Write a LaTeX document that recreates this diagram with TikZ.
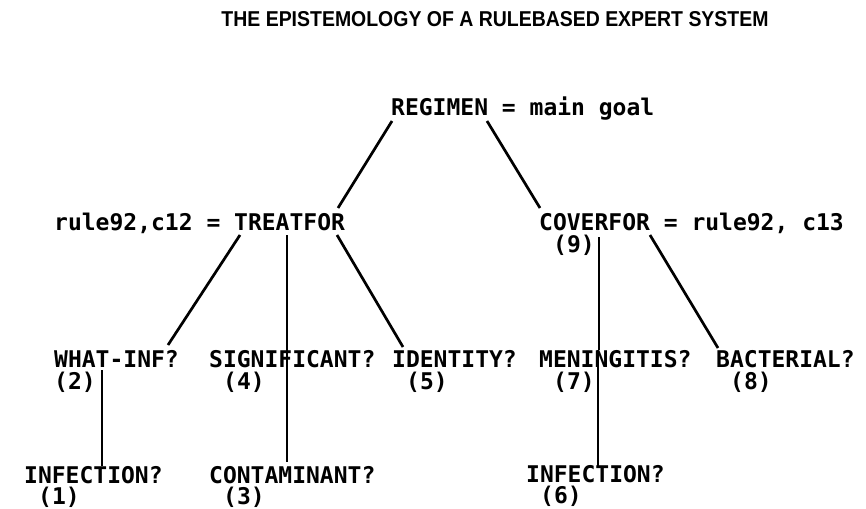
\documentclass[tikz,border=0pt]{standalone}
\usepackage{fontspec}
\usepackage{tikz}
\newfontfamily\printfont{DejaVu Sans Mono}
\newfontfamily\headfont{Liberation Sans}
\tikzstyle{goal} = [inner sep=0pt, anchor=base west, font=\printfont\bfseries\fontsize{23}{22}\selectfont]
\tikzstyle{num} = [goal]
\tikzstyle{branch} = [draw, line width=2.7pt]

\begin{document}
\begin{tikzpicture}[x=1pt, y=-1pt]
    \useasboundingbox (0,0) rectangle (866,508);
    \node [inner sep=0pt, anchor=base, xscale=0.905, font=\headfont\bfseries\fontsize{21.5}{24}\selectfont] (title) at (495,27) {THE EPISTEMOLOGY OF A RULEBASED EXPERT SYSTEM};
    % goals
    \node [goal] (regimen) at (391,115) {REGIMEN = main goal};
    \node [goal] (treat) at (54,230) {rule92,c12 = TREATFOR};
    \node [goal] (cover) at (539,230) {COVERFOR = rule92, c13};
    \node [goal] (whatinf) at (54,367) {WHAT-INF?};
    \node [goal] (signif) at (209,367) {SIGNIFICANT?};
    \node [goal] (ident) at (392,367) {IDENTITY?};
    \node [goal] (menin) at (539,367) {MENINGITIS?};
    \node [goal] (bact) at (716,367) {BACTERIAL?};
    \node [goal] (infa) at (24,483) {INFECTION?};
    \node [goal] (contam) at (209,483) {CONTAMINANT?};
    \node [goal] (infb) at (526,482) {INFECTION?};
    % order numbers
    \node [num] (n9) at ([shift={(14,22)}]cover.base west) {(9)};
    \node [num] (n2) at ([shift={(0,22)}]whatinf.base west) {(2)};
    \node [num] (n4) at ([shift={(14,22)}]signif.base west) {(4)};
    \node [num] (n5) at ([shift={(14,22)}]ident.base west) {(5)};
    \node [num] (n7) at ([shift={(14,22)}]menin.base west) {(7)};
    \node [num] (n8) at ([shift={(14,22)}]bact.base west) {(8)};
    \node [num] (n1) at ([shift={(14,21)}]infa.base west) {(1)};
    \node [num] (n3) at ([shift={(14,21)}]contam.base west) {(3)};
    \node [num] (n6) at ([shift={(14,21)}]infb.base west) {(6)};
    % branches
    \path [branch] ([shift={(1,6)}]regimen.base west) -- ([shift={(284,-22)}]treat.base west);
    \path [branch] ([shift={(96,6)}]regimen.base west) -- ([shift={(1,-22)}]cover.base west);
    \path [branch] ([shift={(186,5)}]treat.base west) -- ([shift={(114,-22)}]whatinf.base west);
    \path [branch] ([shift={(233,5)}]treat.base west) -- ([shift={(78,-17)}]signif.base west);
    \path [branch] ([shift={(283,5)}]treat.base west) -- ([shift={(11,-20)}]ident.base west);
    \path [branch] ([shift={(60,7)}]cover.base west) -- ([shift={(60,-17)}]menin.base west);
    \path [branch] ([shift={(111,5)}]cover.base west) -- ([shift={(2,-19)}]bact.base west);
    \path [branch] ([shift={(48,3)}]whatinf.base west) -- ([shift={(78,-17)}]infa.base west);
    \path [branch] ([shift={(78,-17)}]signif.base west) -- ([shift={(78,-21)}]contam.base west);
    \path [branch] ([shift={(59,-17)}]menin.base west) -- ([shift={(72,-16)}]infb.base west);
\end{tikzpicture}
\end{document}
